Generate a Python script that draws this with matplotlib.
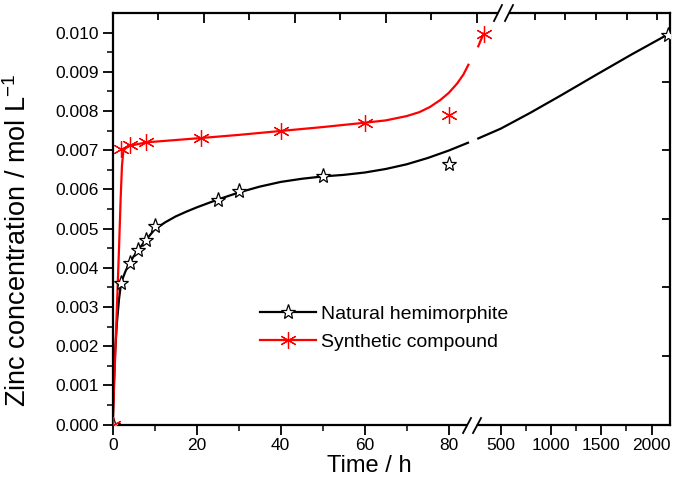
import numpy as np
import matplotlib.pyplot as plt
from matplotlib.lines import Line2D
from matplotlib.ticker import FormatStrFormatter

plt.rcParams['font.family'] = ['Liberation Sans', 'DejaVu Sans']
plt.rcParams['mathtext.fontset'] = 'custom'
plt.rcParams['mathtext.rm'] = 'Liberation Sans'
plt.rcParams['mathtext.default'] = 'regular'

# measured points
nat_t = [0, 2, 4, 6, 8, 10, 25, 30, 50, 80, 2160]
nat_c = [0, 0.00362, 0.00413, 0.00445, 0.00471, 0.00506, 0.00573, 0.00597, 0.00634, 0.00665, 0.00995]
syn_t = [0, 2, 4, 8, 21, 40, 60, 80, 330]
syn_c = [0, 0.00702, 0.00713, 0.00722, 0.00731, 0.00750, 0.00769, 0.00790, 0.00997]

# fitted curves (left and right of the axis break)
nat_fit_t = [0, 0.3, 0.6, 1.0, 1.5, 2, 3, 4, 6, 8, 10, 12.5, 15, 17.5, 20, 25, 30, 35, 40, 45, 50,
             55, 60, 65, 70, 75, 80, 84.6]
nat_fit_c = [0, 0.0011, 0.0019, 0.0026, 0.0032, 0.00362, 0.0039, 0.00413, 0.00445, 0.00472, 0.00498,
             0.00516, 0.00531, 0.00543, 0.00554, 0.00574, 0.00592, 0.00607, 0.00619, 0.00627, 0.00633,
             0.00637, 0.00643, 0.00652, 0.00664, 0.00680, 0.00699, 0.00719]
nat_fit2_t = [276, 500, 791, 1100, 1454, 1800, 2160]
nat_fit2_c = [0.00730, 0.00755, 0.00795, 0.00840, 0.00893, 0.00944, 0.00995]

syn_fit_t = [0, 0.5, 1, 1.5, 1.9, 2.2, 2.5, 3, 4, 8, 21, 30, 40, 50, 60, 65, 70, 73, 75.5, 78, 80,
             82, 83.5, 84.7]
syn_fit_c = [0, 0.0015, 0.0030, 0.0045, 0.0058, 0.0066, 0.00695, 0.00705, 0.00711, 0.00720, 0.00731,
             0.00739, 0.00749, 0.00759, 0.00770, 0.00776, 0.00787, 0.00797, 0.00810, 0.00828, 0.00846,
             0.00870, 0.00893, 0.00918]
syn_fit2_t = [276, 300, 330]
syn_fit2_c = [0.00965, 0.00980, 0.00997]

xticks = [0, 20, 40, 60, 80, 500, 1000, 1500, 2000]
xticks_minor = [10, 30, 50, 70, 750, 1250, 1750]
xticklabels = ['0', '20', '40', '60', '80', '500', '1000', '1500', '2000']
yticks = [0.000, 0.001, 0.002, 0.003, 0.004, 0.005, 0.006, 0.007, 0.008, 0.009, 0.010]

# broken time axis: 0-85.8 h linear, then 224 h onward compressed
B1, B2, K = 85.8, 224.0, 0.02393
EPS = 1e-6
C = B1 + (B2 - B1) * EPS


def fwd(t):
    t = np.asarray(t, float)
    return np.where(t <= B1, t, np.where(t < B2, B1 + (t - B1) * EPS, C + (t - B2) * K))


def inv(u):
    u = np.asarray(u, float)
    return np.where(u <= B1, u, np.where(u < C, B1 + (u - B1) / EPS, B2 + (u - C) / K))


fig = plt.figure(figsize=(6.75, 4.84), dpi=100)
ax = fig.add_axes([0.1670, 0.1229, 0.8256, 0.8502])
ax.set_xscale('function', functions=(fwd, inv))
ax.set_xlim(0, 2184)
ax.set_ylim(0, 0.0105)

star = dict(marker='*', ms=11, mfc='white', mec='black', mew=0.9)
aster = dict(marker=(6, 2, 0), ms=12, mec='red', mew=0.9)

ax.plot(nat_fit_t, nat_fit_c, color='black', lw=1.6)
ax.plot(nat_fit2_t, nat_fit2_c, color='black', lw=1.6)
ax.plot(syn_fit_t, syn_fit_c, color='red', lw=1.6)
ax.plot(syn_fit2_t, syn_fit2_c, color='red', lw=1.6)
ax.plot(nat_t, nat_c, ls='none', zorder=4, **star)
ax.plot(syn_t, syn_c, ls='none', zorder=4, **aster)

ax.set_xticks(xticks)
ax.set_xticklabels(xticklabels)
ax.set_xticks(xticks_minor, minor=True)
ax.set_yticks(yticks)
ax.set_yticks(np.arange(0.0005, 0.0105, 0.001), minor=True)
ax.yaxis.set_major_formatter(FormatStrFormatter('%.3f'))
ax.tick_params(which='major', length=7, width=1.3, labelsize=12.5, pad=3)
ax.tick_params(which='minor', length=4, width=1.1)
for s in ax.spines.values():
    s.set_linewidth(1.6)

ax.set_xlabel('Time / h', fontsize=17, labelpad=3)
ax.xaxis.set_label_coords(0.461, -0.075)
ax.set_ylabel('Zinc concentration / mol L$^{-1}$', fontsize=19.5)
ax.yaxis.set_label_coords(-0.145, 0.448)

# top and right tick marks (inner ticks of the other Origin layer)
top = ax.twiny()
top.set_xlim(0, 1)
top.set_xticks([0.1634, 0.3268, 0.4902, 0.6536])
top.set_xticks([0.0817, 0.2451, 0.4085, 0.5719, 0.757, 0.812, 0.868, 0.922, 0.977], minor=True)
top.tick_params(which='both', direction='in', labeltop=False, width=1.3)
top.tick_params(which='major', length=7)
top.tick_params(which='minor', length=5)
right = ax.twinx()
right.set_ylim(0, 6)
right.set_yticks([1, 2, 3, 4, 5])
right.tick_params(direction='in', labelright=False, length=6, width=1.3)
for a in (top, right):
    for s in a.spines.values():
        s.set_visible(False)

# break marks
brk = dict(transform=ax.transAxes, clip_on=False, zorder=6)
ax.plot([0.641, 0.649], [0, 0], color='white', lw=4, **brk)
ax.plot([0.6286, 0.6429], [-0.0207, 0.0158], color='black', lw=1.3, **brk)
ax.plot([0.6465, 0.6609], [-0.0207, 0.0158], color='black', lw=1.3, **brk)
ax.plot([0.697, 0.706], [1, 1], color='white', lw=4, **brk)
ax.plot([0.6842, 0.6985], [0.9806, 1.0194], color='black', lw=1.3, **brk)
ax.plot([0.7039, 0.7183], [0.9806, 1.0194], color='black', lw=1.3, **brk)

handles = [Line2D([], [], color='black', lw=1.6, **star),
           Line2D([], [], color='red', lw=1.6, **aster)]
ax.legend(handles, ['Natural hemimorphite', 'Synthetic compound'], loc='upper left',
          bbox_to_anchor=(0.264, 0.290), frameon=False, fontsize=14, borderpad=0,
          borderaxespad=0, handlelength=2.9, handletextpad=0.25, labelspacing=0.55)

fig.savefig('out.png', dpi=100)
